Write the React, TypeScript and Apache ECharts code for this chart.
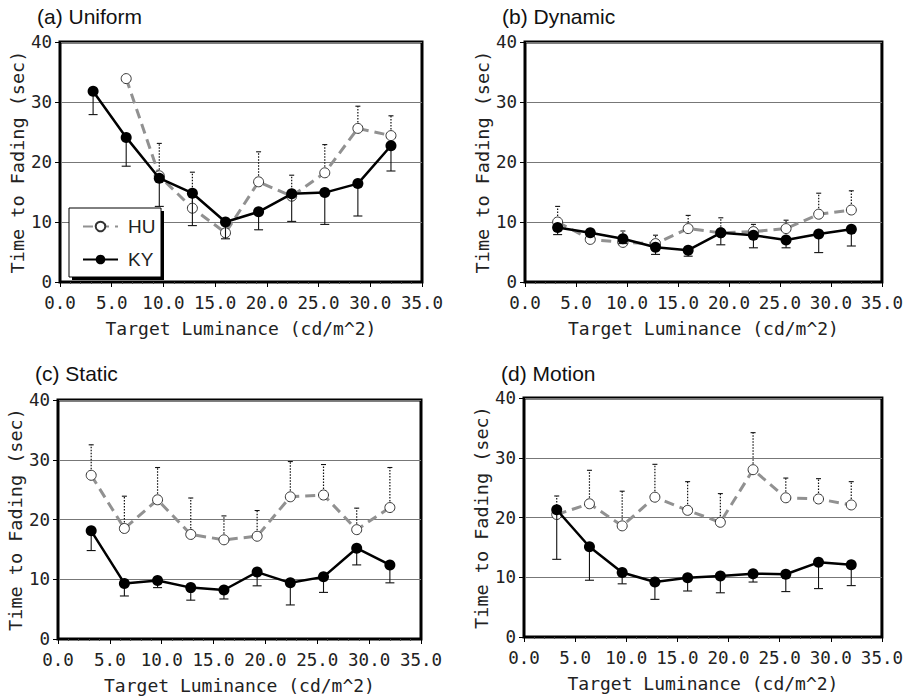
import React, { useEffect, useRef } from "react";
import * as echarts from "echarts";

const X_LUM = [3.2, 6.4, 9.6, 12.8, 16.0, 19.2, 22.4, 25.6, 28.8, 32.0];
const X_TICKS = [0, 5, 10, 15, 20, 25, 30, 35];
const Y_TICKS = [0, 10, 20, 30, 40];
const TITLES = ["(a) Uniform", "(b) Dynamic", "(c) Static", "(d) Motion"];

// (a) Uniform
const KY_A = [31.8, 24.1, 17.3, 14.8, 10.0, 11.7, 14.7, 14.9, 16.4, 22.7];
const KY_A_LO = [27.9, 19.3, 12.6, 9.4, 7.2, 8.7, 10.1, 9.6, 11.0, 18.5];
const HU_A = [null, 33.9, 17.7, 12.3, 8.2, 16.7, 14.3, 18.2, 25.6, 24.4];
const HU_A_HI = [null, null, 23.1, 18.3, 10.6, 21.7, 17.8, 22.9, 29.3, 27.7];

// (b) Dynamic
const KY_B = [9.1, 8.2, 7.2, 5.8, 5.3, 8.2, 7.8, 7.0, 8.0, 8.8];
const KY_B_LO = [7.9, null, 6.4, 4.6, 4.3, 6.2, 5.7, 5.7, 4.9, 6.0];
const HU_B = [10.0, 7.1, 6.6, 6.4, 8.9, 8.2, 8.4, 8.9, 11.3, 12.0];
const HU_B_HI = [12.6, null, 8.5, 7.8, 11.1, 10.7, 9.6, 10.3, 14.8, 15.2];

// (c) Static
const KY_C = [18.1, 9.3, 9.8, 8.6, 8.2, 11.2, 9.4, 10.4, 15.2, 12.4];
const KY_C_LO = [14.8, 7.2, 8.6, 6.5, 6.7, 8.9, 5.7, 7.8, 12.4, 9.4];
const HU_C = [27.4, 18.5, 23.3, 17.5, 16.6, 17.2, 23.8, 24.1, 18.3, 22.0];
const HU_C_HI = [32.5, 23.9, 28.7, 23.6, 20.6, 21.5, 29.7, 29.2, 21.9, 28.7];

// (d) Motion
const KY_D = [21.3, 15.1, 10.8, 9.2, 9.9, 10.2, 10.6, 10.5, 12.5, 12.1];
const KY_D_LO = [13.0, 9.5, 8.9, 6.3, 7.7, 7.4, 9.2, 7.6, 8.1, 8.6];
const HU_D = [20.5, 22.3, 18.6, 23.4, 21.2, 19.2, 28.0, 23.3, 23.1, 22.1];
const HU_D_HI = [23.6, 27.9, 24.4, 28.9, 26.0, 24.0, 34.2, 26.6, 26.5, 26.0];

const PANELS = [
  { ky: KY_A, kyLo: KY_A_LO, hu: HU_A, huHi: HU_A_HI },
  { ky: KY_B, kyLo: KY_B_LO, hu: HU_B, huHi: HU_B_HI },
  { ky: KY_C, kyLo: KY_C_LO, hu: HU_C, huHi: HU_C_HI },
  { ky: KY_D, kyLo: KY_D_LO, hu: HU_D, huHi: HU_D_HI },
];

const GRIDS = [
  { left: 60, top: 42, width: 362, height: 240 },
  { left: 525, top: 42, width: 360, height: 240 },
  { left: 58, top: 400, width: 363, height: 239 },
  { left: 524, top: 398, width: 361, height: 239 },
];
const TITLE_POS = [
  { left: 37, top: 6 },
  { left: 502, top: 6 },
  { left: 35, top: 363 },
  { left: 501, top: 363 },
];

const MONO = "DejaVu Sans Mono";
const SANS = "Liberation Sans";

function errSeries(idx: number, vals: any[], bounds: any[], dashed: boolean, capHalf: number, name: string) {
  const data: any[] = [];
  X_LUM.forEach((x, i) => {
    if (vals[i] != null && bounds[i] != null) data.push([x, vals[i], bounds[i]]);
  });
  return {
    type: "custom",
    name,
    xAxisIndex: idx,
    yAxisIndex: idx,
    z: dashed ? 2 : 4,
    silent: true,
    encode: { x: 0, y: [1, 2] },
    data,
    renderItem: (params: any, api: any) => {
      const p = api.coord([api.value(0), api.value(1)]);
      const q = api.coord([api.value(0), api.value(2)]);
      const style: any = {
        stroke: "#111",
        lineWidth: dashed ? 1.2 : 1.1,
        lineDash: dashed ? [1.5, 1.5] : null,
      };
      return {
        type: "group",
        children: [
          { type: "line", shape: { x1: p[0], y1: p[1], x2: q[0], y2: q[1] }, style },
          {
            type: "line",
            shape: { x1: q[0] - capHalf, y1: q[1], x2: q[0] + capHalf, y2: q[1] },
            style: { stroke: "#111", lineWidth: 1.1 },
          },
        ],
      };
    },
  };
}

export default function App() {
  const ref = useRef<HTMLDivElement>(null);
  useEffect(() => {
    if (!ref.current) return;
    const chart = echarts.init(ref.current, null, { renderer: "svg" });
    const series: any[] = [];
    PANELS.forEach((p, i) => {
      series.push(errSeries(i, p.hu, p.huHi, true, 2.5, "HU err " + i));
      series.push({
        type: "line",
        name: "HU",
        xAxisIndex: i,
        yAxisIndex: i,
        z: 3,
        data: X_LUM.map((x, k) => [x, p.hu[k] == null ? "-" : p.hu[k]]),
        symbol: "circle",
        symbolSize: 10,
        lineStyle: { color: "#919191", width: 3, type: [10, 6] },
        itemStyle: { color: "#fff", borderColor: "#333", borderWidth: 1 },
        silent: true,
      });
      series.push(errSeries(i, p.ky, p.kyLo, false, 4.5, "KY err " + i));
      series.push({
        type: "line",
        name: "KY",
        xAxisIndex: i,
        yAxisIndex: i,
        z: 5,
        data: X_LUM.map((x, k) => [x, p.ky[k]]),
        symbol: "circle",
        symbolSize: 11,
        lineStyle: { color: "#000", width: 2.5 },
        itemStyle: { color: "#000", borderColor: "#000", borderWidth: 0 },
        silent: true,
      });
    });

    const option: any = {
      animation: false,
      backgroundColor: "#fff",
      title: TITLES.map((t, i) => ({
        text: t,
        left: TITLE_POS[i].left,
        top: TITLE_POS[i].top,
        padding: 0,
        textStyle: { fontFamily: SANS, fontSize: 21, fontWeight: "normal", color: "#111" },
      })),
      grid: GRIDS.map((g) => ({
        ...g,
        show: true,
        borderColor: "#000",
        borderWidth: 3,
        backgroundColor: "transparent",
        containLabel: false,
      })),
      xAxis: GRIDS.map((g, i) => ({
        type: "value",
        gridIndex: i,
        min: X_TICKS[0],
        max: X_TICKS[X_TICKS.length - 1],
        interval: 5,
        name: "Target Luminance (cd/m^2)",
        nameLocation: "middle",
        nameGap: 37,
        nameTextStyle: { fontFamily: MONO, fontSize: 18, color: "#222" },
        axisLine: { show: true, lineStyle: { color: "#000", width: 1 } },
        axisTick: { show: true, inside: false, length: 5, lineStyle: { color: "#000" } },
        minorTick: { show: true, splitNumber: 5, length: 2, lineStyle: { color: "#444" } },
        axisLabel: {
          fontFamily: MONO,
          fontSize: 17.5,
          color: "#222",
          margin: 12,
          formatter: (v: number) => v.toFixed(1),
        },
        splitLine: { show: false },
      })),
      yAxis: GRIDS.map((g, i) => ({
        type: "value",
        gridIndex: i,
        min: Y_TICKS[0],
        max: Y_TICKS[Y_TICKS.length - 1],
        interval: 10,
        name: "Time to Fading (sec)",
        nameLocation: "middle",
        nameGap: 33,
        nameTextStyle: { fontFamily: MONO, fontSize: 18.5, color: "#222" },
        axisLine: { show: true, lineStyle: { color: "#000", width: 1 } },
        axisTick: { show: true, inside: false, length: 5, lineStyle: { color: "#000" } },
        axisLabel: { fontFamily: MONO, fontSize: 17.5, color: "#222", margin: 8 },
        splitLine: { show: true, lineStyle: { color: "#777", width: 1 } },
      })),
      legend: {
        data: ["HU", "KY"],
        orient: "vertical",
        left: 82,
        top: 217,
        padding: 0,
        itemWidth: 35,
        itemHeight: 12,
        itemGap: 14,
        selectedMode: false,
        z: 10,
        textStyle: { fontFamily: SANS, fontSize: 19, color: "#222", padding: [0, 0, 0, 5] },
      },
      graphic: [
        { type: "rect", z: 6, shape: { x: 72, y: 211, width: 92, height: 69 }, style: { fill: "#000" } },
        {
          type: "rect",
          z: 7,
          shape: { x: 69, y: 208, width: 92, height: 69 },
          style: { fill: "#fff", stroke: "#000", lineWidth: 1 },
        },
      ],
      series,
    };
    chart.setOption(option);
    return () => chart.dispose();
  }, []);
  return (
    <div
      ref={ref}
      style={{ position: "absolute", left: 0, top: 0, width: 906, height: 696, background: "#fff" }}
    />
  );
}
